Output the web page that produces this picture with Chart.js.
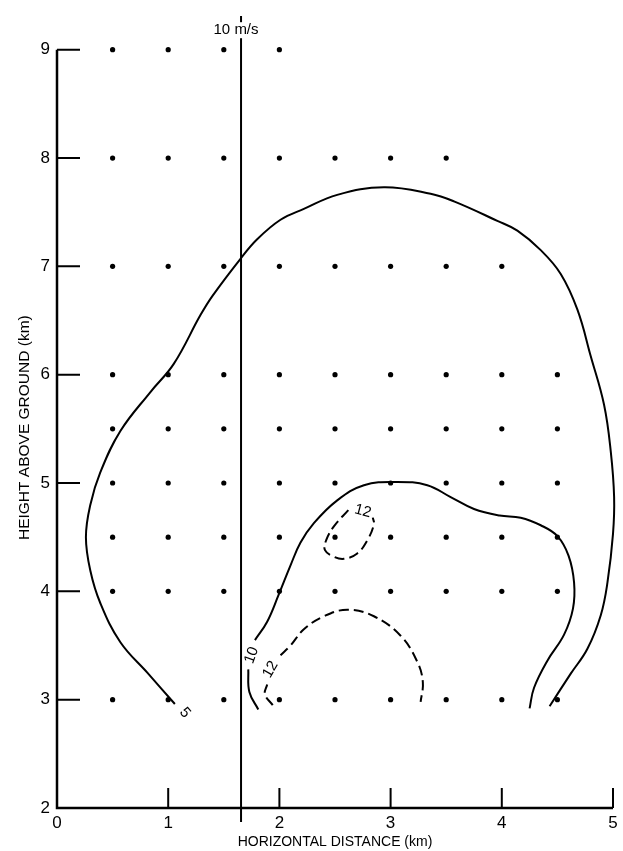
<!DOCTYPE html>
<html lang="en">
  <head>
    <meta charset="UTF-8" />
    <title>Height vs horizontal distance</title>
    <style>
      body { margin: 0; background: #fff; }
      .box { width: 623px; height: 851px; }
    </style>
  </head>
  <body>
    <div class="box"><canvas id="myChart"></canvas></div>
    <script src="https://cdn.jsdelivr.net/npm/chart.js@4/dist/chart.umd.min.js"></script>
    <script>
    // sample grid (dots)
    const gridX = [0.5, 1, 1.5, 2, 2.5, 3, 3.5, 4, 4.5];
    const rowY = [9, 8, 7, 6, 5.5, 5, 4.5, 4, 3];
    const rowLastX = [2, 3.5, 4, 4.5, 4.5, 4.5, 4.5, 4.5, 4.5];

    // 5 m/s contour (solid)
    const c5x = [1.06, 0.82, 0.57, 0.39, 0.30, 0.26, 0.30, 0.39, 0.57, 0.84, 1.05, 1.29, 1.40, 1.65, 1.80, 2.01, 2.22, 2.52, 2.94, 3.36, 3.57, 3.96, 4.14, 4.35, 4.53, 4.68, 4.80, 4.92, 4.98, 5.01, 5.00, 4.95, 4.89, 4.77, 4.62, 4.43];
    const c5y = [2.96, 3.24, 3.53, 3.89, 4.19, 4.50, 4.80, 5.10, 5.48, 5.84, 6.10, 6.55, 6.73, 7.07, 7.25, 7.43, 7.53, 7.66, 7.73, 7.67, 7.60, 7.42, 7.33, 7.15, 6.93, 6.60, 6.17, 5.72, 5.29, 4.87, 4.53, 4.08, 3.78, 3.47, 3.24, 2.94];

    // 10 m/s contour (solid, broken by label)
    const c10ax = [1.81, 1.73, 1.72];
    const c10ay = [2.91, 3.07, 3.28];
    const c10bx = [1.78, 1.89, 1.99, 2.10, 2.19, 2.31, 2.52, 2.76, 3.06, 3.33, 3.54, 3.75, 3.98, 4.17, 4.35, 4.50, 4.60, 4.65, 4.64, 4.56, 4.41, 4.29, 4.25];
    const c10by = [3.55, 3.72, 3.96, 4.24, 4.45, 4.63, 4.84, 4.98, 5.01, 4.98, 4.87, 4.76, 4.70, 4.68, 4.61, 4.51, 4.33, 4.08, 3.84, 3.60, 3.36, 3.11, 2.92];

    // 12 m/s contours (dashed)
    const c12ax = [1.94, 1.87, 1.89];
    const c12ay = [2.95, 3.05, 3.14];
    const c12bx = [2.01, 2.10, 2.22, 2.40, 2.61, 2.85, 3.09, 3.24, 3.29, 3.27];
    const c12by = [3.41, 3.50, 3.65, 3.77, 3.83, 3.77, 3.59, 3.35, 3.16, 2.98];
    const c12cx = [2.62, 2.49, 2.42, 2.41, 2.49, 2.58, 2.70, 2.79, 2.85, 2.84];
    const c12cy = [4.75, 4.60, 4.47, 4.38, 4.32, 4.30, 4.35, 4.47, 4.62, 4.68];

    // 10 m/s reference line
    const refX = 1.655;

    const labelText = ['5', '10', '12', '12', '10 m/s'];
    const labelX = [1.15, 1.75, 1.92, 2.75, 1.61];
    const labelY = [2.88, 3.41, 3.28, 4.74, 9.18];
    const labelRot = [50, -70, -60, 15, 0];

    const xTicks = [0, 1, 2, 3, 4, 5];
    const yTicks = [2, 3, 4, 5, 6, 7, 8, 9];

    function pts(xs, ys) {
        return xs.map((x, i) => ({ x: x, y: ys[i] }));
    }

    const dots = [];
    rowY.forEach((y, r) => {
        gridX.forEach(x => { if (x <= rowLastX[r]) dots.push({ x: x, y: y }); });
    });

    function curve(data, dashed) {
        return {
            type: 'line',
            data: data,
            showLine: true,
            borderColor: '#000',
            borderWidth: 2,
            borderDash: dashed ? [10, 5] : [],
            pointRadius: 0,
            tension: 0.4,
            fill: false,
            clip: false
        };
    }

    const frame = {
        id: 'frame',
        afterDatasetsDraw(chart) {
            const ctx = chart.ctx;
            const xs = chart.scales.x, ys = chart.scales.y;
            const x0 = xs.getPixelForValue(0), x5 = xs.getPixelForValue(5);
            const y2 = ys.getPixelForValue(2), y9 = ys.getPixelForValue(9);
            ctx.save();
            ctx.strokeStyle = '#000';
            ctx.lineWidth = 2.5;
            ctx.beginPath();
            ctx.moveTo(x0, y9);
            ctx.lineTo(x0, y2);
            ctx.lineTo(x5, y2);
            ctx.stroke();
            ctx.lineWidth = 2;
            ctx.beginPath();
            yTicks.slice(1).forEach(v => {
                const p = ys.getPixelForValue(v);
                ctx.moveTo(x0, p);
                ctx.lineTo(x0 + 23, p);
            });
            xTicks.slice(1).forEach(v => {
                const p = xs.getPixelForValue(v);
                ctx.moveTo(p, y2);
                ctx.lineTo(p, y2 - 20);
            });
            ctx.stroke();

            ctx.fillStyle = '#000';
            ctx.font = '15px "Liberation Sans", Arial, sans-serif';
            ctx.textAlign = 'center';
            ctx.textBaseline = 'middle';
            labelText.forEach((t, i) => {
                ctx.save();
                ctx.translate(xs.getPixelForValue(labelX[i]), ys.getPixelForValue(labelY[i]));
                ctx.rotate(labelRot[i] * Math.PI / 180);
                if (i === 4) {
                    ctx.fillStyle = '#fff';
                    ctx.fillRect(0, -8, 12, 16);
                    ctx.fillStyle = '#000';
                }
                ctx.fillText(t, 0, 0);
                ctx.restore();
            });
            ctx.restore();
        }
    };

    const tickFont = { family: '"Liberation Sans", Arial, sans-serif', size: 17 };

    new Chart(document.getElementById('myChart'), {
        type: 'scatter',
        data: {
            datasets: [
                {
                    data: dots,
                    pointRadius: 2.6,
                    pointBackgroundColor: '#000',
                    pointBorderWidth: 0
                },
                curve(pts(c5x, c5y), false),
                curve(pts(c10ax, c10ay), false),
                curve(pts(c10bx, c10by), false),
                curve(pts(c12ax, c12ay), true),
                curve(pts(c12bx, c12by), true),
                curve(pts(c12cx, c12cy), true),
                {
                    type: 'line',
                    data: [{ x: refX, y: 1.87 }, { x: refX, y: 9.31 }],
                    showLine: true,
                    borderColor: '#000',
                    borderWidth: 2,
                    pointRadius: 0,
                    clip: false
                }
            ]
        },
        options: {
            responsive: true,
            maintainAspectRatio: false,
            animation: false,
            layout: { padding: { top: 9, right: 10, left: 0, bottom: 0 } },
            plugins: {
                legend: { display: false },
                tooltip: { enabled: false }
            },
            scales: {
                x: {
                    type: 'linear',
                    min: 0,
                    max: 5,
                    grid: { display: false, drawTicks: false },
                    border: { display: false },
                    ticks: { color: '#000', font: tickFont, padding: 5, maxRotation: 0 },
                    afterBuildTicks: s => { s.ticks = xTicks.map(v => ({ value: v })); },
                    afterFit: s => { s.height = 43; },
                    title: {
                        display: true,
                        text: 'HORIZONTAL DISTANCE (km)',
                        color: '#000',
                        font: { family: '"Liberation Sans", Arial, sans-serif', size: 14 },
                        padding: { top: 0, bottom: 0 }
                    }
                },
                y: {
                    type: 'linear',
                    min: 2,
                    max: 9.3,
                    grid: { display: false, drawTicks: false },
                    border: { display: false },
                    ticks: { color: '#000', font: tickFont, padding: 7 },
                    afterBuildTicks: s => { s.ticks = yTicks.map(v => ({ value: v })); },
                    afterFit: s => { s.width = 57; },
                    title: {
                        display: true,
                        text: 'HEIGHT ABOVE GROUND (km)       ',
                        color: '#000',
                        font: { family: '"Liberation Sans", Arial, sans-serif', size: 15.5 },
                        padding: { top: 15, bottom: 0 }
                    }
                }
            }
        },
        plugins: [frame]
    });
    </script>
  </body>
</html>
